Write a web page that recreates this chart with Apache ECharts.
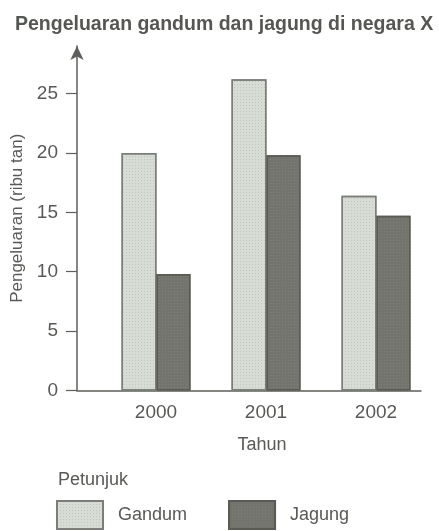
<!DOCTYPE html>
<html>
<head>
<meta charset="utf-8">
<script src="https://cdn.jsdelivr.net/npm/echarts@6/dist/echarts.min.js"></script>
<style>
html,body{margin:0;padding:0;background:#ffffff;}
#chart{width:439px;height:531px;}
</style>
</head>
<body>
<div id="chart"></div>
<script>
var categories = ['2000', '2001', '2002'];
var gandum = [20, 26.2, 16.4];
var jagung = [9.8, 19.8, 14.7];
var yTicks = [0, 5, 10, 15, 20, 25];
var seriesNames = ['Gandum', 'Jagung'];

var FONT = 'Liberation Sans, Arial, sans-serif';
var TXT = '#585a56';
var AX = '#5c5f5a';
var YMAX = 29;
var TOP = 46, BOTTOM = 140.5;

var chart = echarts.init(document.getElementById('chart'), null, {renderer: 'canvas'});
chart.setOption({
  backgroundColor: '#ffffff',
  animation: false,
  textStyle: {fontFamily: FONT, color: TXT},
  title: [
    {text: 'Pengeluaran gandum dan jagung di negara X', left: 15, top: 15, padding: 0,
     textStyle: {fontFamily: FONT, fontSize: 19.5, fontWeight: 'bold', color: '#555752'}},
    {text: 'Petunjuk', left: 58, top: 471, padding: 0,
     textStyle: {fontFamily: FONT, fontSize: 18, fontWeight: 'normal', color: TXT}}
  ],
  legend: {
    left: 56, top: 500, padding: 0, itemWidth: 46, itemHeight: 28, itemGap: 41,
    icon: 'rect',
    textStyle: {fontFamily: FONT, fontSize: 18, color: TXT, padding: [0, 0, 0, 10]},
    data: seriesNames
  },
  grid: [
    {left: 101, right: 8, top: TOP, bottom: BOTTOM},
    {left: 77, right: 18, top: TOP, bottom: BOTTOM}
  ],
  xAxis: [
    {type: 'category', gridIndex: 0, data: categories,
     axisLine: {show: false}, axisTick: {show: false},
     axisLabel: {margin: 13, fontFamily: FONT, fontSize: 19, color: TXT},
     name: 'Tahun', nameLocation: 'middle', nameGap: 46,
     nameTextStyle: {fontFamily: FONT, fontSize: 18, color: TXT, padding: [0, 8, 0, 0]}},
    {type: 'value', gridIndex: 1, min: 0, max: 1,
     axisLine: {show: true, lineStyle: {color: AX, width: 1.5}},
     axisTick: {show: false}, axisLabel: {show: false}, splitLine: {show: false}}
  ],
  yAxis: [
    {type: 'value', gridIndex: 0, min: 0, max: YMAX, show: false, splitLine: {show: false}},
    {type: 'value', gridIndex: 1, min: 0, max: YMAX,
     axisLine: {show: true, symbol: ['none', 'arrow'], symbolSize: [10, 14], lineStyle: {color: AX, width: 1.5}},
     axisTick: {show: true, length: 11, customValues: yTicks, lineStyle: {color: AX, width: 1.2}},
     axisLabel: {customValues: yTicks, margin: 19, fontFamily: FONT, fontSize: 19, color: TXT},
     splitLine: {show: false},
     name: 'Pengeluaran (ribu tan)', nameLocation: 'middle', nameGap: 48, nameRotate: 90,
     nameTextStyle: {fontFamily: FONT, fontSize: 17, color: TXT}}
  ],
  series: [
    {name: seriesNames[0], type: 'bar', xAxisIndex: 0, yAxisIndex: 0, data: gandum,
     barWidth: 35, barGap: '0%',
     itemStyle: {color: '#d7dcd4', borderColor: '#7b7e78', borderWidth: 1.5,
       decal: {symbol: 'rect', symbolSize: 1, dashArrayX: [1, 2], dashArrayY: [1, 2], color: 'rgba(120,128,118,0.22)'}}},
    {name: seriesNames[1], type: 'bar', xAxisIndex: 0, yAxisIndex: 0, data: jagung,
     barWidth: 34, barGap: '0%',
     itemStyle: {color: '#73746d', borderColor: '#5a5b55', borderWidth: 1.5,
       decal: {symbol: 'rect', symbolSize: 1, dashArrayX: [1, 2], dashArrayY: [1, 2], color: 'rgba(150,152,144,0.35)'}}}
  ]
});
</script>
</body>
</html>
